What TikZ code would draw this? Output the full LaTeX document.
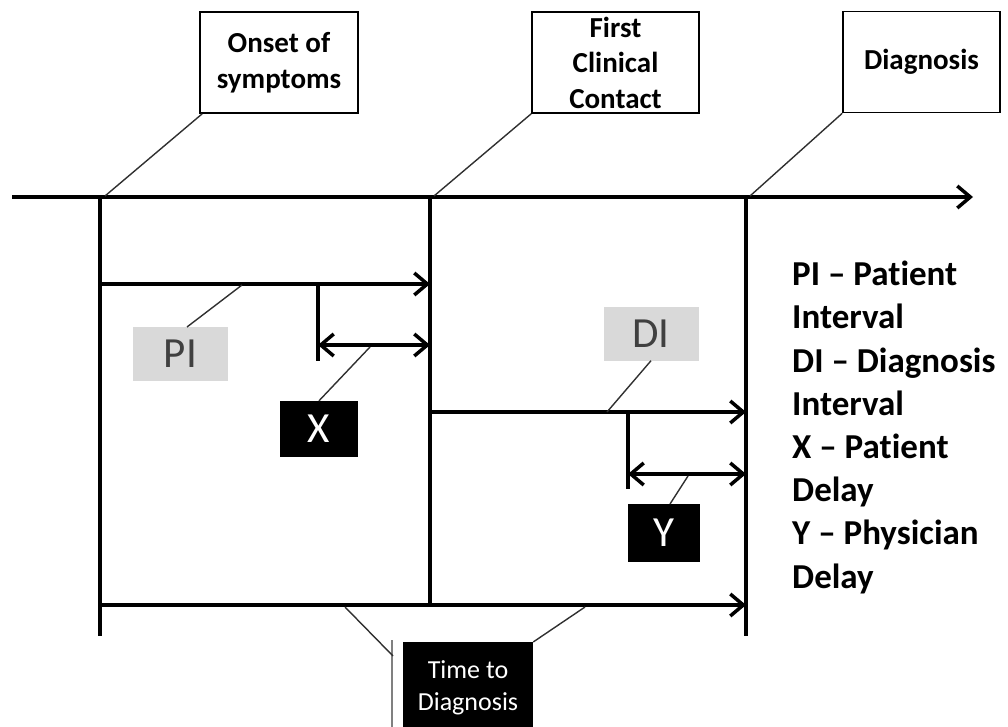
\documentclass[tikz,border=0pt]{standalone}
\usepackage{fontspec}
\setmainfont{Carlito}[Ligatures={TeX,NoCommon}]
\usetikzlibrary{arrows.meta}
\definecolor{labelgray}{HTML}{D9D9D9}
\definecolor{labeltext}{HTML}{404040}
\definecolor{leadcol}{HTML}{303030}
\begin{document}
\begin{tikzpicture}[x=1pt,y=-1pt,
  axis/.style={line width=3.5pt},
  tipend/.style={axis,-{Straight Barb[length=13pt,width=22pt]}},
  tipboth/.style={axis,{Straight Barb[length=13pt,width=22pt]}-{Straight Barb[length=13pt,width=22pt]}},
  leader/.style={draw=leadcol,line width=1.4pt},
  eventbox/.style={draw,line width=1.6pt,minimum height=101pt,inner sep=0pt,align=center,
    font=\fontsize{29}{36}\selectfont\bfseries},
  graylabel/.style={fill=labelgray,text=labeltext,inner sep=0pt,minimum width=95pt,minimum height=54pt,
    font=\fontsize{43}{43}\selectfont},
  blacklabel/.style={fill=black,text=white,inner sep=0pt,font=\fontsize{43}{43}\selectfont}]
\useasboundingbox (0,0) rectangle (1008,727);
\clip (0,0) rectangle (1008,727);

% event boxes above the time axis
\node[eventbox,minimum width=158pt] (onset) at (279,62.5) {Onset of\\symptoms};
\node[eventbox,minimum width=167pt,font=\fontsize{29}{35.5}\selectfont\bfseries] (contact) at (615.5,62.5) {First\\Clinical\\Contact};
\node[eventbox,minimum width=157pt] (diag) at (921.5,62) {Diagnosis};

% time axis and the three event markers
\coordinate (axstart) at (12,197);
\coordinate (axend) at (973,197);
\coordinate (t0) at (100,197);
\coordinate (t1) at (430,197);
\coordinate (t2) at (746,197);
\coordinate (b0) at (100,636);
\coordinate (b1) at (430,605);
\coordinate (b2) at (746,636);
\draw[tipend] (axstart) -- (axend);
\draw[axis] (t0) -- (b0);
\draw[axis] (t1) -- (b1);
\draw[axis] (t2) -- (b2);

% leaders from the event boxes to the axis
\coordinate (p0) at (105,196);
\coordinate (p1) at (434,196);
\coordinate (p2) at (750,196);
\draw[leader] ([xshift=3pt]onset.south west) -- (p0);
\draw[leader] (contact.south west) -- (p1);
\draw[leader] (diag.south west) -- (p2);

% patient interval and patient delay
\coordinate (pia) at (100,284);
\coordinate (pib) at (430,284);
\draw[tipend] (pia) -- (pib);
\coordinate (xa) at (318,284);
\coordinate (xb) at (318,361);
\draw[axis] (xa) -- (xb);
\coordinate (xl) at (318,345);
\coordinate (xr) at (430,345);
\draw[tipboth] (xl) -- (xr);

% diagnosis interval and physician delay
\coordinate (dia) at (430,412);
\coordinate (dib) at (746,412);
\draw[tipend] (dia) -- (dib);
\coordinate (ya) at (628,412);
\coordinate (yb) at (628,489);
\draw[axis] (ya) -- (yb);
\coordinate (yl) at (628,474);
\coordinate (yr) at (746,474);
\draw[tipboth] (yl) -- (yr);

% total time to diagnosis
\coordinate (tta) at (100,605);
\coordinate (ttb) at (746,605);
\draw[tipend] (tta) -- (ttb);

% interval labels
\node[graylabel] (pi) at (180.5,354) {PI};
\node[graylabel] (di) at (651,333.5) {DI};
\node[blacklabel,minimum width=78pt,minimum height=56pt] (x) at (319,429) {X};
\node[blacklabel,minimum width=72pt,minimum height=58pt] (y) at (664,533) {Y};
\node[fill=black,text=white,anchor=north,minimum width=130pt,minimum height=92pt,inner sep=0pt,
  align=center,font=\fontsize{26}{32}\selectfont] (ttd) at (468,642) {Time to\\Diagnosis};
\draw[draw=gray,line width=2.5pt] (392,640) -- (392,727);

% label leaders
\coordinate (pil) at (242,285);
\draw[leader] (pil) -- (187,327);
\coordinate (xlab) at (370,347);
\draw[leader] (xlab) -- (x.north);
\coordinate (dil) at (607,412);
\draw[leader] (dil) -- (di.south);
\coordinate (ylab) at (688,476);
\draw[leader] (ylab) -- (670,504);
\coordinate (ttl) at (345,607);
\coordinate (ttr) at (585,607);
\draw[leader] (ttl) -- (393,656);
\draw[leader] (ttr) -- (ttd.north east);

% key to the abbreviations
\node[anchor=north west,align=left,inner sep=0pt,font=\fontsize{35}{43.2}\selectfont\bfseries] (key) at (792,261)
  {PI \textendash{} Patient\\Interval\\DI \textendash{} Diagnosis\\Interval\\X \textendash{} Patient\\Delay\\Y \textendash{} Physician\\Delay};
\end{tikzpicture}
\end{document}
